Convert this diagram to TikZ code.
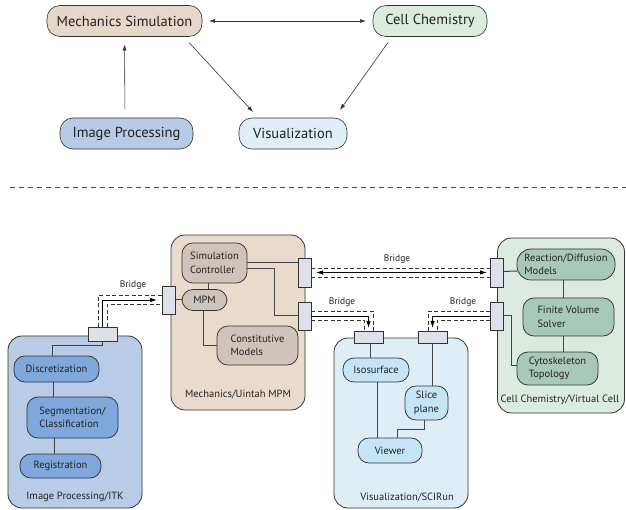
\documentclass[tikz,border=0pt]{standalone}
\usepackage{fontspec}
\setmainfont{PT Sans}
\usetikzlibrary{calc,arrows.meta}

\definecolor{lineC}{HTML}{333333}
\definecolor{linkC}{HTML}{444444}
\definecolor{txtC}{HTML}{222222}
\definecolor{portC}{HTML}{DDE0E8}
\definecolor{sepC}{HTML}{3C4658}
% mechanics (beige)
\definecolor{mechTop}{HTML}{E6D8C8}
\definecolor{mechPane}{HTML}{E8DBCB}
\definecolor{mechUnit}{HTML}{CFC4B9}
% cell chemistry (green)
\definecolor{cellTop}{HTML}{DBECDF}
\definecolor{cellPane}{HTML}{DCEBDF}
\definecolor{cellUnit}{HTML}{A8C8BA}
% image processing (blue)
\definecolor{imgTop}{HTML}{B7CBE7}
\definecolor{imgPane}{HTML}{B8CCE8}
\definecolor{imgUnit}{HTML}{7EA8DB}
% visualization (pale blue)
\definecolor{visTop}{HTML}{E0EFF7}
\definecolor{visPane}{HTML}{DEEEF6}
\definecolor{visUnit}{HTML}{C3E5F6}

\tikzset{
  topbox/.style={draw=lineC, line width=0.6pt, rounded corners=13pt,
    minimum height=31pt, inner sep=0pt, outer sep=0pt, text=txtC,
    font=\fontsize{14.5}{16}\selectfont},
  pane/.style={draw=lineC, line width=0.8pt, rounded corners=14pt,
    inner sep=0pt, outer sep=0pt},
  unit/.style={draw=lineC, line width=0.75pt, rounded corners=11pt,
    inner sep=0pt, outer sep=0pt, align=left, text=txtC,
    font=\fontsize{10.5}{13.5}\selectfont},
  port/.style={draw=lineC, fill=portC, line width=0.75pt,
    inner sep=0pt, outer sep=0pt},
  link/.style={draw=linkC, line width=1pt},
  arr/.style={draw=lineC, line width=0.6pt, -{Latex[length=6pt,width=4pt]}},
  pipe/.style={draw=lineC, line width=0.7pt, dash pattern=on 4pt off 2.5pt},
  flow/.style={draw=black, line width=0.9pt},
  tip/.style={-{Latex[length=7pt,width=4.5pt]}},
  tag/.style={text=txtC, font=\fontsize{9.5}{10}\selectfont, inner sep=0pt},
  panelabel/.style={text=txtC, font=\fontsize{10.5}{12}\selectfont, inner sep=0pt}
}

\begin{document}
\begin{tikzpicture}[x=1pt,y=-1pt]
\useasboundingbox (0,0) rectangle (626,510);

% ---------- overview ----------
\node[topbox, fill=mechTop, minimum width=155pt] (ms) at (124.5,21) {Mechanics Simulation};
\node[topbox, fill=cellTop, minimum width=114pt] (cc) at (430,21) {Cell Chemistry};
\node[topbox, fill=imgTop,  minimum width=133pt] (ip) at (126.5,133.5) {Image Processing};
\node[topbox, fill=visTop,  minimum width=108pt] (vz) at (293,133.5) {Visualization};

\draw[arr, {Latex[length=6pt,width=4pt]}-{Latex[length=6pt,width=4pt]},
      shorten <=7pt, shorten >=7pt] (ms.east) -- (cc.west);
\draw[arr, shorten <=9pt, shorten >=8pt] (ip.north -| ms.south) ++(0.5,0) -- (ms.south);
\draw[arr] ($(ms.south east)+(-13,6)$) -- ($(vz.north west)+(14,-6)$);
\draw[arr] ($(cc.south west)+(15,6)$) -- ($(vz.north east)+(-7,-8)$);

% separator
\draw[sepC, line width=1pt, dash pattern=on 5pt off 4pt] (10,188) -- (626,188);

% ---------- panes ----------
\node[pane, fill=imgPane,  minimum width=134pt, minimum height=172pt] (itk) at (75,422) {};
\node[pane, fill=mechPane, minimum width=134pt, minimum height=175pt] (mpm) at (238,322.5) {};
\node[pane, fill=visPane,  minimum width=134pt, minimum height=170pt] (vis) at (401,423) {};
\node[pane, fill=cellPane, minimum width=127pt, minimum height=175pt] (vc)  at (561,325.5) {};

\node[panelabel] (itkL) at (75,497) {Image Processing/ITK};
\node[panelabel] (mpmL) at (238,394) {Mechanics/Uintah MPM};
\node[panelabel] (visL) at (407,497) {Visualization/SCIRun};
\node[panelabel] (vcL)  at (560,400) {Cell Chemistry/Virtual Cell};

% ---------- units ----------
\node[unit, fill=imgUnit, minimum width=85pt, minimum height=26pt] (disc) at (56.5,369) {Discretization};
\node[unit, fill=imgUnit, minimum width=91pt, minimum height=41pt] (seg)  at (72.5,417.5) {Segmentation/\\Classification};
\node[unit, fill=imgUnit, minimum width=81pt, minimum height=24pt] (reg)  at (60.5,466) {Registration};

\node[unit, fill=mechUnit, minimum width=65pt, minimum height=40pt] (simc) at (214.5,263) {Simulation\\Controller};
\node[unit, fill=mechUnit, minimum width=45pt, minimum height=21pt] (mpmn) at (204.5,300) {MPM};
\node[unit, fill=mechUnit, minimum width=81pt, minimum height=39pt] (cons) at (257.5,345.5) {Constitutive\\Models};

\node[unit, fill=visUnit, minimum width=66pt, minimum height=24pt] (iso)   at (376,370) {Isosurface};
\node[unit, fill=visUnit, minimum width=43pt, minimum height=34pt, align=center] (slice) at (426.5,403) {Slice\\plane};
\node[unit, fill=visUnit, minimum width=64pt, minimum height=25pt] (view)  at (390,450.5) {Viewer};

\node[unit, fill=cellUnit, minimum width=98pt, minimum height=31pt, rounded corners=14pt] (rd)   at (566,264.5) {Reaction/Diffusion\\Models};
\node[unit, fill=cellUnit, minimum width=91pt, minimum height=38pt] (fvs)  at (568.5,317) {Finite Volume\\Solver};
\node[unit, fill=cellUnit, minimum width=81pt, minimum height=33pt] (cyto) at (557.5,368.5) {Cytoskeleton\\Topology};

% ---------- ports ----------
\node[port, minimum width=29pt, minimum height=14pt] (pi)  at (102.5,334) {};
\node[port, minimum width=13pt, minimum height=28pt] (pm1) at (168.5,300) {};
\node[port, minimum width=13pt, minimum height=29pt] (pm2) at (304.5,272.5) {};
\node[port, minimum width=13pt, minimum height=28pt] (pm3) at (304.5,316) {};
\node[port, minimum width=13pt, minimum height=29pt] (pc1) at (496.5,272.5) {};
\node[port, minimum width=13pt, minimum height=28pt] (pc2) at (496.5,316) {};
\node[port, minimum width=29pt, minimum height=12pt] (pv1) at (368.5,337) {};
\node[port, minimum width=29pt, minimum height=12pt] (pv2) at (432.5,337) {};

% ---------- links inside panes ----------
\draw[link] (pi.south) |- ($(disc.north)+(-4,-11)$) -- ($(disc.north)+(-4,0)$);
\draw[link] ($(disc.south)+(-3,0)$) -- ($(seg.north)+(-19,0)$);
\draw[link] ($(seg.south)+(-18.5,0)$) -- ($(reg.north)+(-6.5,0)$);

\draw[link] ($(simc.south)+(-6.5,0)$) -- ($(mpmn.north)+(3.5,0)$);
\draw[link] (pm1.east) -- (mpmn.west);
\draw[link] ($(mpmn.south)+(-1.5,0)$) |- (cons.west);
\draw[link] (simc.east) -- (simc.east -| pm2.west);
\draw[link] ($(simc.east)+(0,6)$) -| ($(pm3.west)+(-24,0)$) -- (pm3.west);

\draw[link] ($(pv1.south)+(1.5,0)$) -- ($(iso.north)+(-6,0)$);
\draw[link] (pv2.south) -- ($(slice.north)+(6,0)$);
\draw[link] ($(iso.south)+(1,0)$) -- ($(view.north)+(-13,0)$);
\draw[link] ($(slice.south)+(-2.5,0)$) -- ($(slice.south)+(-2.5,9)$) -| ($(view.north)+(7,0)$);

\draw[link] ($(pc1.east)+(0,-1)$) -- ($(rd.west)+(0,6.5)$);
\draw[link] ($(rd.south)+(-3,0)$) -- ($(fvs.north)+(-5.5,0)$);
\draw[link] ($(fvs.south)+(-5.5,0)$) -- ($(cyto.north)+(5.5,0)$);
\draw[link] (pc2.east) -| ($(cyto.west)+(-6,-3)$) -- ($(cyto.west)+(0,-3)$);

% ---------- bridges ----------
% image processing -> mechanics
\draw[pipe] ($(pi.north)+(-4.5,0)$) |- ($(pm1.west)+(0,-4.5)$);
\draw[pipe] ($(pi.north)+(4.5,0)$) |- ($(pm1.west)+(0,4.5)$);
\draw[flow, tip, shorten >=5pt] (pi.north) |- (pm1.west);
\node[tag] (b1) at (133,285) {Bridge};

% mechanics <-> cell chemistry
\draw[pipe] ($(pm2.east)+(0,-4.5)$) -- ($(pc1.west)+(0,-4.5)$);
\draw[pipe] ($(pm2.east)+(0,4.5)$) -- ($(pc1.west)+(0,4.5)$);
\draw[flow, {Latex[length=7pt,width=4.5pt]}-{Latex[length=7pt,width=4.5pt]},
      shorten <=5pt, shorten >=3pt] (pm2.east) -- (pc1.west);
\node[tag] (b2) at (397,259) {Bridge};

% mechanics -> visualization
\draw[pipe] ($(pm3.east)+(0,-4.5)$) -| ($(pv1.north)+(4.5,0)$);
\draw[pipe] ($(pm3.east)+(0,4.5)$) -| ($(pv1.north)+(-4.5,0)$);
\draw[flow, tip, shorten >=3pt] (pm3.east) -| (pv1.north);
\node[tag] (b3) at (342,302) {Bridge};

% cell chemistry -> visualization
\draw[pipe] ($(pc2.west)+(0,-4.5)$) -| ($(pv2.north)+(-4.5,0)$);
\draw[pipe] ($(pc2.west)+(0,4.5)$) -| ($(pv2.north)+(4.5,0)$);
\draw[flow, tip, shorten >=3pt] (pc2.west) -| (pv2.north);
\node[tag] (b4) at (463,302) {Bridge};

\end{tikzpicture}
\end{document}
